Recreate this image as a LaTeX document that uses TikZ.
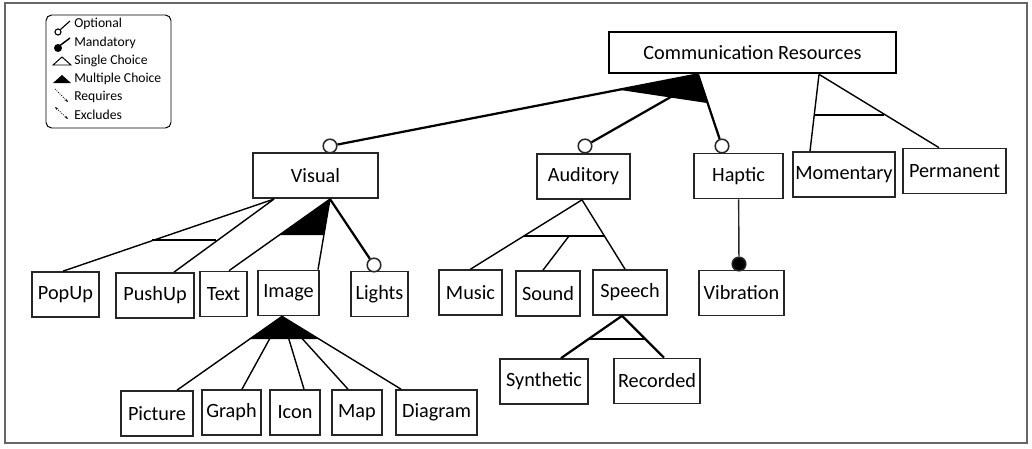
\documentclass[tikz,border=0pt]{standalone}
\usepackage{fontspec}
\setmainfont{Carlito}
\usepackage{tikz}
\usetikzlibrary{arrows.meta,calc}

\begin{document}
\begin{tikzpicture}[
    x=0.025cm, y=-0.025cm,
    feat/.style={
        draw=black!85,
        line width=1.2pt,
        minimum height=1.125cm,
        inner sep=1pt,
        fill=white,
        font=\fontsize{14.4}{16}\selectfont
    },
    root/.style={
        feat,
        draw=black,
        line width=1.9pt,
        minimum height=1.025cm
    },
    opt/.style={
        circle,
        draw=black!85,
        fill=white,
        line width=1.1pt,
        inner sep=0pt,
        minimum size=0.34cm
    },
    mand/.style={opt, fill=black},
    link/.style={line width=1.6pt},
    slim/.style={line width=1pt},
    grpbar/.style={line width=1.5pt},
    lgtext/.style={anchor=west, inner sep=0pt, font=\fontsize{9.7}{11}\selectfont}
]

\useasboundingbox (0,0) rectangle (1032,448);
\draw[black!60, line width=0.8pt] (5,3) rectangle (1027,443);

% legend
\draw[line width=0.7pt, rounded corners=4] (46,15) rectangle (171,128);
\node[lgtext] (lg-opt) at (74,24) {Optional};
\node[lgtext] (lg-mand) at (74,43) {Mandatory};
\node[lgtext] (lg-alt) at (74,61) {Single Choice};
\node[lgtext] (lg-or) at (74,79) {Multiple Choice};
\node[lgtext] (lg-req) at (74,97) {Requires};
\node[lgtext] (lg-exc) at (74,115) {Excludes};
\draw[line width=0.8pt] (58,32) circle (3);
\draw[line width=0.8pt] (60.5,29.5) -- (70,21);
\fill (58,48) circle (4);
\draw[line width=1pt] (60,45.5) -- (70,38);
\draw[line width=0.7pt] (53,65) -- (62,57) -- (71,65) -- cycle;
\fill (53,83) -- (62,75) -- (71,83) -- cycle;
\draw[line width=0.6pt, densely dotted, -{Stealth[length=2.5pt]}] (55,89) -- (68,102);
\draw[line width=0.6pt, densely dotted, {Stealth[length=2.5pt]}-{Stealth[length=2.5pt]}] (55,107) -- (68,119);

% first level
\node[root, minimum width=7.175cm] (comm) at (752.5,52.5) {Communication Resources};
\node[feat, minimum width=3.125cm, line width=1.5pt] (visual) at (315.5,175.5) {Visual};
\node[feat, minimum width=2.325cm] (auditory) at (583.5,176.5) {Auditory};
\node[feat, minimum width=2.225cm] (haptic) at (738.5,176) {Haptic};
\node[feat, minimum width=2.55cm] (momentary) at (844,174.5) {Momentary};
\node[feat, minimum width=2.575cm] (permanent) at (954.5,171) {Permanent};

% second level
\node[feat, minimum width=1.675cm] (popup) at (65.5,294.5) {PopUp};
\node[feat, minimum width=1.95cm] (pushup) at (155,295.5) {PushUp};
\node[feat, minimum width=1.175cm] (text) at (223.5,294) {Text};
\node[feat, minimum width=1.525cm] (image) at (288.5,293) {Image};
\node[feat, minimum width=1.425cm] (lights) at (379.5,294) {Lights};
\node[feat, minimum width=1.575cm] (music) at (470.5,292.5) {Music};
\node[feat, minimum width=1.6cm] (sound) at (548,293.5) {Sound};
\node[feat, minimum width=1.85cm] (speech) at (630,292.5) {Speech};
\node[feat, minimum width=2.125cm] (vibration) at (741.5,293) {Vibration};

% third level
\node[feat, minimum width=2.2cm] (synthetic) at (544,381.5) {Synthetic};
\node[feat, minimum width=2.15cm] (recorded) at (657,381) {Recorded};
\node[feat, minimum width=1.8cm] (picture) at (157,413.5) {Picture};
\node[feat, minimum width=1.475cm] (graph) at (231.5,412.5) {Graph};
\node[feat, minimum width=1.25cm] (icon) at (295,412.5) {Icon};
\node[feat, minimum width=1.25cm] (map) at (357,412.5) {Map};
\node[feat, minimum width=2.025cm] (diagram) at (436.5,412.5) {Diagram};

% optional / mandatory ends
\node[opt] (o-visual) at (330,146) {};
\node[opt] (o-auditory) at (585,146) {};
\node[opt] (o-haptic) at (722,146) {};
\node[opt] (o-lights) at (374,265) {};
\node[mand] (m-vibration) at (739,264) {};

% communication resources: multiple choice
\coordinate (comm-or) at ($(comm.south)+(-54.5,0)$);
\coordinate (comm-mid) at (690,86);
\fill (comm-or) -- (617,89.5) -- (707,103) -- cycle;
\draw[link] (comm-or) -- (o-visual);
\draw[link] (comm-mid) -- (o-auditory);
\draw[link] (comm-or) -- (o-haptic);

% communication resources: single choice
\coordinate (comm-alt) at ($(comm.south)+(66.5,0)$);
\draw[slim] (comm-alt) -- ($(momentary.north)+(-34,0)$);
\draw[slim] (comm-alt) -- ($(permanent.north)+(-15.5,0)$);
\draw[grpbar] (814,115) -- (884,115);

% visual
\coordinate (vis-alt) at ($(visual.south)+(-41.5,0)$);
\coordinate (vis-or) at ($(visual.south)+(14.5,0)$);
\draw[slim] (vis-alt) -- ($(popup.north)+(-2.5,0)$);
\draw[slim] (vis-alt) -- ($(pushup.north)+(19,0)$);
\draw[grpbar] (152,240) -- (216,240);
\fill (vis-or) -- (279,235) -- (324,235) -- cycle;
\draw[slim] (vis-or) -- ($(text.north)+(5.5,0)$);
\draw[slim] (vis-or) -- ($(image.north)+(29.5,0)$);
\draw[link] (vis-or) -- (o-lights);

% image
\coordinate (img-or) at ($(image.south)+(-6.5,0)$);
\fill (img-or) -- (249,339) -- (319,339) -- cycle;
\draw[slim] (img-or) -- ($(picture.north)+(20,0)$);
\draw[slim] (img-or) -- ($(graph.north)+(10.5,0)$);
\draw[slim] (img-or) -- ($(icon.north)+(9,0)$);
\draw[slim] (img-or) -- ($(map.north)+(-9,0)$);
\draw[slim] (img-or) -- ($(diagram.north)+(-35.5,0)$);

% auditory
\coordinate (aud-alt) at ($(auditory.south)+(-1.5,0)$);
\coordinate (aud-bar) at (569,236);
\draw[slim] (aud-alt) -- (music.north);
\draw[slim] (aud-alt) -- ($(speech.north)+(-5,0)$);
\draw[grpbar] (524,236) -- (604,236);
\draw[slim] (aud-bar) -- ($(sound.north)+(-5,0)$);

% speech
\coordinate (sp-alt) at ($(speech.south)+(-8,0)$);
\draw[link] (sp-alt) -- ($(synthetic.north)+(17,0)$);
\draw[link] (sp-alt) -- ($(recorded.north)+(7,0)$);
\draw[grpbar] (589,339) -- (645,339);

% haptic
\draw[slim, black!85] (haptic) -- (m-vibration);

\end{tikzpicture}
\end{document}
